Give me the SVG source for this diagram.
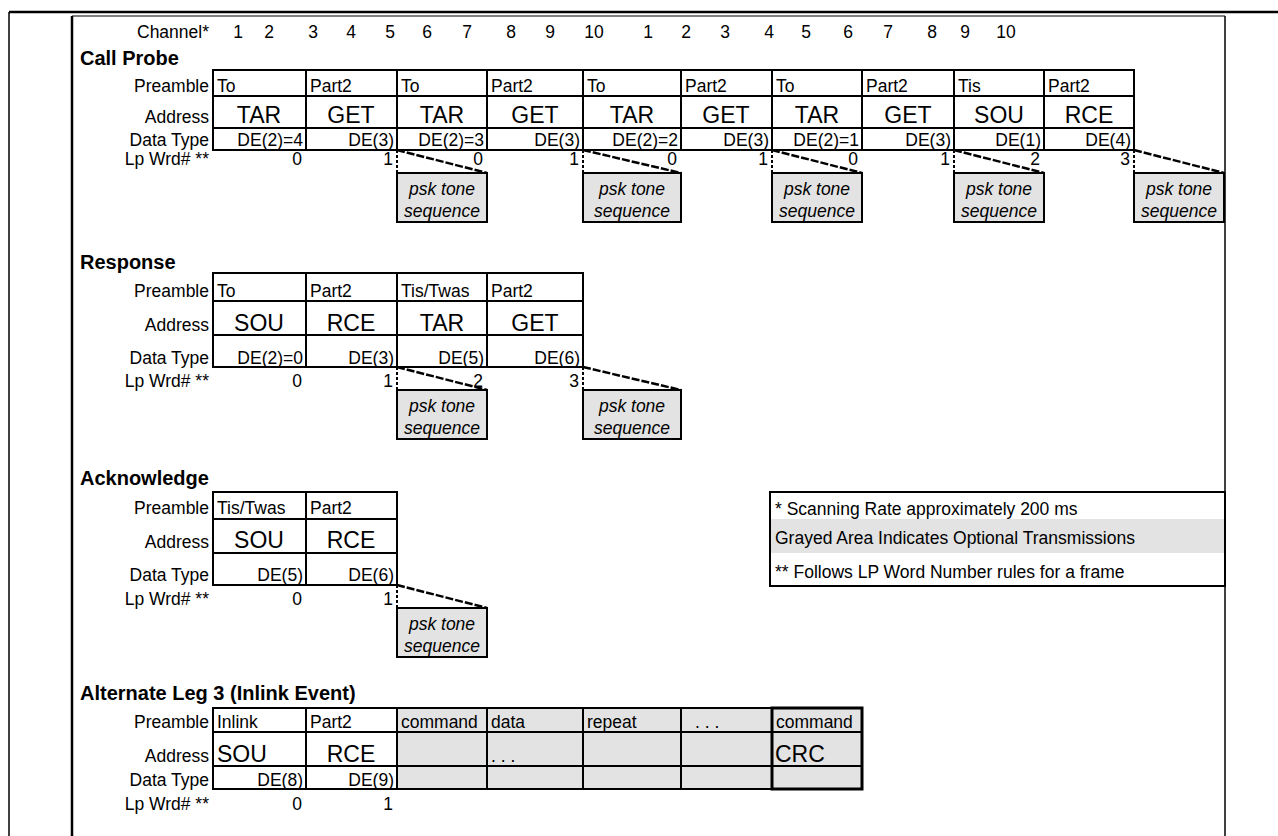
<svg xmlns="http://www.w3.org/2000/svg" width="1278" height="836" viewBox="0 0 1278 836">
<style>
text{font-family:"Liberation Sans",Arial,sans-serif;font-size:17.5px;fill:#000}
.lbl{text-anchor:end}
.r{text-anchor:end}
.c{text-anchor:middle}
.big{font-size:23px}
.title{font-weight:bold;font-size:20px}
.grid{fill:none;stroke:#000;stroke-width:2}
.gray{fill:#e3e3e3;stroke:none}
.psk{fill:#e3e3e3;stroke:#000;stroke-width:2}
.pskt{font-style:italic;text-anchor:middle}
.dash{stroke:#000;stroke-width:2.5;stroke-dasharray:8 2;fill:none}
.tick{stroke:#000;stroke-width:2;stroke-dasharray:3 2;fill:none}
.frame{stroke:#000;fill:none}
</style>
<rect width="1278" height="836" fill="#fff"/>
<g id="frame">
<line class="frame" x1="9" y1="12" x2="1278" y2="12" stroke-width="2.5"/>
<line class="frame" x1="9" y1="12" x2="9" y2="836" stroke-width="1.5"/>
<line class="frame" x1="72" y1="16" x2="1225" y2="16" stroke-width="1.2"/>
<line class="frame" x1="72" y1="16" x2="72" y2="836" stroke-width="2.5"/>
<line class="frame" x1="1225" y1="16" x2="1225" y2="836" stroke-width="1.5"/>
</g>
<g id="channel-row">
<text class="lbl" x="209" y="38">Channel*</text>
<text class="c" x="238" y="38">1</text><text class="c" x="269" y="38">2</text><text class="c" x="313" y="38">3</text><text class="c" x="351" y="38">4</text><text class="c" x="390" y="38">5</text><text class="c" x="427" y="38">6</text><text class="c" x="467" y="38">7</text><text class="c" x="511" y="38">8</text><text class="c" x="550" y="38">9</text><text class="c" x="594" y="38">10</text>
<text class="c" x="648" y="38">1</text><text class="c" x="686" y="38">2</text><text class="c" x="725" y="38">3</text><text class="c" x="769" y="38">4</text><text class="c" x="806" y="38">5</text><text class="c" x="848" y="38">6</text><text class="c" x="888" y="38">7</text><text class="c" x="932" y="38">8</text><text class="c" x="965" y="38">9</text><text class="c" x="1006" y="38">10</text>
</g>
<g id="call-probe">
<text class="title" x="80" y="65">Call Probe</text>
<text class="lbl" x="209" y="92">Preamble</text>
<text class="lbl" x="209" y="123">Address</text>
<text class="lbl" x="209" y="146">Data Type</text>
<text class="lbl" x="209" y="165">Lp Wrd# **</text>
<rect class="grid" x="213" y="70" width="921" height="80"/>
<path class="grid" d="M213 96H1134M213 128H1134M306 70V150M397 70V150M487 70V150M583 70V150M681 70V150M772 70V150M862 70V150M954 70V150M1044 70V150"/>
<text x="217" y="92">To</text><text x="310" y="92">Part2</text><text x="401" y="92">To</text><text x="491" y="92">Part2</text><text x="587" y="92">To</text><text x="685" y="92">Part2</text><text x="776" y="92">To</text><text x="866" y="92">Part2</text><text x="958" y="92">Tis</text><text x="1048" y="92">Part2</text>
<text class="c big" x="259" y="123">TAR</text><text class="c big" x="351" y="123">GET</text><text class="c big" x="442" y="123">TAR</text><text class="c big" x="535" y="123">GET</text><text class="c big" x="632" y="123">TAR</text><text class="c big" x="726" y="123">GET</text><text class="c big" x="817" y="123">TAR</text><text class="c big" x="908" y="123">GET</text><text class="c big" x="999" y="123">SOU</text><text class="c big" x="1089" y="123">RCE</text>
<text class="r" x="303" y="146">DE(2)=4</text><text class="r" x="394" y="146">DE(3)</text><text class="r" x="484" y="146">DE(2)=3</text><text class="r" x="580" y="146">DE(3)</text><text class="r" x="678" y="146">DE(2)=2</text><text class="r" x="769" y="146">DE(3)</text><text class="r" x="859" y="146">DE(2)=1</text><text class="r" x="951" y="146">DE(3)</text><text class="r" x="1041" y="146">DE(1)</text><text class="r" x="1131" y="146">DE(4)</text>
<text class="r" x="302" y="165">0</text><text class="r" x="393" y="165">1</text><text class="r" x="483" y="165">0</text><text class="r" x="579" y="165">1</text><text class="r" x="677" y="165">0</text><text class="r" x="768" y="165">1</text><text class="r" x="858" y="165">0</text><text class="r" x="950" y="165">1</text><text class="r" x="1040" y="165">2</text><text class="r" x="1130" y="165">3</text>
</g>
<g id="psk-cp-1"><rect class="psk" x="397" y="173" width="90" height="49"/><text class="pskt" x="442" y="195">psk tone</text><text class="pskt" x="442" y="217">sequence</text></g>
<g id="psk-cp-2"><rect class="psk" x="583" y="173" width="98" height="49"/><text class="pskt" x="632" y="195">psk tone</text><text class="pskt" x="632" y="217">sequence</text></g>
<g id="psk-cp-3"><rect class="psk" x="772" y="173" width="90" height="49"/><text class="pskt" x="817" y="195">psk tone</text><text class="pskt" x="817" y="217">sequence</text></g>
<g id="psk-cp-4"><rect class="psk" x="954" y="173" width="90" height="49"/><text class="pskt" x="999" y="195">psk tone</text><text class="pskt" x="999" y="217">sequence</text></g>
<g id="psk-cp-5"><rect class="psk" x="1134" y="173" width="90" height="49"/><text class="pskt" x="1179" y="195">psk tone</text><text class="pskt" x="1179" y="217">sequence</text></g>
<g id="response">
<text class="title" x="80" y="269">Response</text>
<text class="lbl" x="209" y="297">Preamble</text>
<text class="lbl" x="209" y="331">Address</text>
<text class="lbl" x="209" y="364">Data Type</text>
<text class="lbl" x="209" y="387">Lp Wrd# **</text>
<rect class="grid" x="213" y="273" width="370" height="94"/>
<path class="grid" d="M213 301H583M213 335H583M306 273V367M397 273V367M487 273V367"/>
<text x="217" y="297">To</text><text x="310" y="297">Part2</text><text x="401" y="297">Tis/Twas</text><text x="491" y="297">Part2</text>
<text class="c big" x="259" y="331">SOU</text><text class="c big" x="351" y="331">RCE</text><text class="c big" x="442" y="331">TAR</text><text class="c big" x="535" y="331">GET</text>
<text class="r" x="303" y="364">DE(2)=0</text><text class="r" x="394" y="364">DE(3)</text><text class="r" x="484" y="364">DE(5)</text><text class="r" x="580" y="364">DE(6)</text>
<text class="r" x="302" y="387">0</text><text class="r" x="393" y="387">1</text><text class="r" x="483" y="387">2</text><text class="r" x="579" y="387">3</text>
</g>
<g id="psk-rs-1"><rect class="psk" x="397" y="390" width="90" height="49"/><text class="pskt" x="442" y="412">psk tone</text><text class="pskt" x="442" y="434">sequence</text></g>
<g id="psk-rs-2"><rect class="psk" x="583" y="390" width="98" height="49"/><text class="pskt" x="632" y="412">psk tone</text><text class="pskt" x="632" y="434">sequence</text></g>
<g id="acknowledge">
<text class="title" x="80" y="485">Acknowledge</text>
<text class="lbl" x="209" y="514">Preamble</text>
<text class="lbl" x="209" y="548">Address</text>
<text class="lbl" x="209" y="581">Data Type</text>
<text class="lbl" x="209" y="605">Lp Wrd# **</text>
<rect class="grid" x="213" y="492" width="184" height="93"/>
<path class="grid" d="M213 519H397M213 553H397M306 492V585"/>
<text x="217" y="514">Tis/Twas</text><text x="310" y="514">Part2</text>
<text class="c big" x="259" y="548">SOU</text><text class="c big" x="351" y="548">RCE</text>
<text class="r" x="303" y="581">DE(5)</text><text class="r" x="394" y="581">DE(6)</text>
<text class="r" x="302" y="605">0</text><text class="r" x="393" y="605">1</text>
</g>
<g id="psk-ack-1"><rect class="psk" x="397" y="608" width="90" height="49"/><text class="pskt" x="442" y="630">psk tone</text><text class="pskt" x="442" y="652">sequence</text></g>
<g id="legend">
<rect x="770" y="519" width="455" height="34" class="gray"/>
<rect class="grid" x="770" y="492" width="455" height="94"/>
<text x="775" y="515">* Scanning Rate approximately 200 ms</text>
<text x="775" y="544">Grayed Area Indicates Optional Transmissions</text>
<text x="775" y="578">** Follows LP Word Number rules for a frame</text>
</g>
<g id="alternate-leg-3">
<rect x="397" y="708" width="465" height="81" class="gray"/>
<text class="title" x="80" y="700">Alternate Leg 3 (Inlink Event)</text>
<text class="lbl" x="209" y="728">Preamble</text>
<text class="lbl" x="209" y="762">Address</text>
<text class="lbl" x="209" y="786">Data Type</text>
<text class="lbl" x="209" y="810">Lp Wrd# **</text>
<rect class="grid" x="213" y="708" width="649" height="81"/>
<path class="grid" d="M213 732H862M213 766H862M306 708V789M397 708V789M487 708V789M583 708V789M681 708V789"/>
<rect x="772" y="708" width="90" height="81" fill="none" stroke="#000" stroke-width="3"/>
<text x="217" y="728">Inlink</text><text x="310" y="728">Part2</text><text x="401" y="728">command</text><text x="491" y="728">data</text><text x="587" y="728">repeat</text><text x="695" y="728">. . .</text><text x="776" y="728">command</text>
<text class="big" x="217" y="762">SOU</text><text class="c big" x="351" y="762">RCE</text><text x="491" y="762">. . .</text><text class="big" x="775" y="762">CRC</text>
<text class="r" x="303" y="786">DE(8)</text><text class="r" x="394" y="786">DE(9)</text>
<text class="r" x="302" y="810">0</text><text class="r" x="393" y="810">1</text>
</g>
<g id="connectors">
<path class="dash" d="M397 150L487 173M583 150L681 173M772 150L862 173M954 150L1044 173M1134 150L1224 173"/>
<path class="tick" d="M397 150V173M583 150V173M772 150V173M954 150V173M1134 150V173"/>
<path class="dash" d="M397 367L487 390M583 367L681 390"/>
<path class="tick" d="M397 367V390M583 367V390"/>
<path class="dash" d="M397 585L487 608"/>
<path class="tick" d="M397 585V608"/>
</g>
</svg>
